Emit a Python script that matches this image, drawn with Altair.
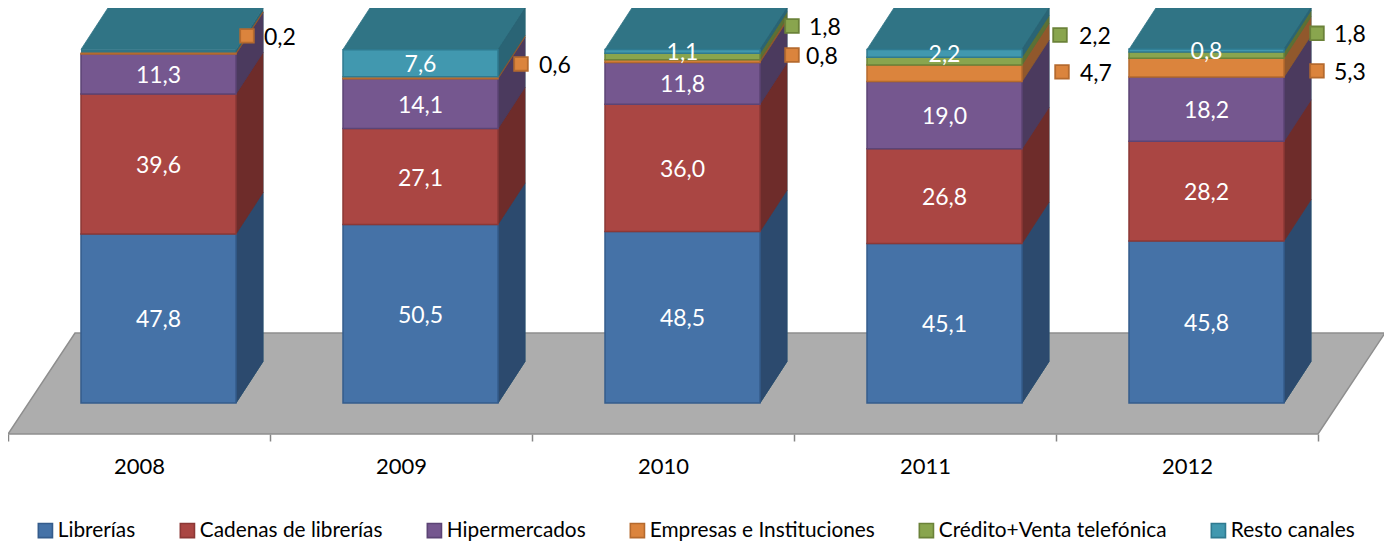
import altair as alt
import pandas as pd

years = ["2008", "2009", "2010", "2011", "2012"]
series = ["Librerías", "Cadenas de librerías", "Hipermercados",
          "Empresas e Instituciones", "Crédito+Venta telefónica", "Resto canales"]
librerias = [47.8, 50.5, 48.5, 45.1, 45.8]
cadenas = [39.6, 27.1, 36.0, 26.8, 28.2]
hiper = [11.3, 14.1, 11.8, 19.0, 18.2]
empresas = [0.2, 0.6, 0.8, 4.7, 5.3]
credito = [None, None, 1.8, 2.2, 1.8]
resto = [None, 7.6, 1.1, 2.2, 0.8]
values = [librerias, cadenas, hiper, empresas, credito, resto]

front = ["#4572A7", "#AA4643", "#75578F", "#DB843D", "#89A54E", "#4198AF"]
edge = ["#355C8C", "#8C3836", "#5C4475", "#B56A2E", "#6B8239", "#2F7A90"]
side = ["#2C4A6E", "#6E2C2A", "#4B3A5E", "#91582C", "#5B7035", "#2A6475"]
cap_col = "#307485"

PXX, PXY = 262.0, 3.536          # pixels per category, pixels per percentage point
W, H = 1376, 426
BAR_L, BAR_W = 73 / PXX, 155 / PXX
DX, DY = 27 / PXX, 41.5 / PXY
Y_MIN = -31 / PXY
Y_MAX = Y_MIN + H / PXY
FLOOR_TOP = 70 / PXY
FLOOR_DX = 67 / PXX

# callouts outside the bars: (series index, year index, nudge in px right, nudge in px down, text gap)
callouts = [(3, 0, -2.5, 3, 17), (3, 1, 9.5, 7, 18), (3, 2, 18.5, 14.7, 14), (4, 2, 18.5, -9.7, 17),
            (3, 3, 26.5, 19.4, 18), (4, 3, 24.5, -5.3, 19), (3, 4, 19.5, 24, 17), (4, 4, 19.5, -1, 17)]

fronts, sides, labels, marks, caps = [], [], [], [], []
for yi, yr in enumerate(years):
    left = yi + BAR_L
    right = left + BAR_W
    caps.append(dict(x=left, x2=right, y=0, y2=100, fill=cap_col))
    sides.append(dict(key=f"c{yi}", x=right, y=0, y2=100, fill=side[5]))
    sides.append(dict(key=f"c{yi}", x=right + DX, y=DY, y2=100 + DY, fill=side[5]))
    for xv, lo, hi in [(left, 100, 100), (left + DX, 100, 100 + DY), (right, 100, 100 + DY), (right + DX, 100 + DY, 100 + DY)]:
        sides.append(dict(key=f"t{yi}", x=xv, y=lo, y2=hi, fill=cap_col))
    cum = 0.0
    for si, s in enumerate(series):
        v = values[si][yi]
        if v is None:
            continue
        lo, hi = cum, cum + v
        cum = hi
        fronts.append(dict(series=s, x=left, x2=right, y=lo, y2=hi))
        key = f"s{yi}_{si}"
        sides.append(dict(key=key, x=right, y=lo, y2=hi, fill=side[si]))
        sides.append(dict(key=key, x=right + DX, y=lo + DY, y2=hi + DY, fill=side[si]))
        mid = (lo + hi) / 2
        txt = f"{v:.1f}".replace(".", ",")
        co = [c for c in callouts if c[0] == si and c[1] == yi]
        if co:
            _, _, nx, ny, gap = co[0]
            mx = right + DX / 2 + nx / PXX
            my = mid + DY / 2 - ny / PXY
            marks.append(dict(x=mx, y=my, fill=front[si], stroke=edge[si]))
            labels.append(dict(x=mx + gap / PXX, y=my, text=txt, col="#000000", align="left"))
        else:
            labels.append(dict(x=(left + right) / 2, y=mid, text=txt, col="#FFFFFF", align="center"))

floor = pd.DataFrame([
    dict(x=0.0, y=Y_MIN, y2=Y_MIN),
    dict(x=FLOOR_DX, y=Y_MIN, y2=FLOOR_TOP),
    dict(x=5.0, y=Y_MIN, y2=FLOOR_TOP),
    dict(x=5.0 + FLOOR_DX, y=FLOOR_TOP, y2=FLOOR_TOP),
])

x_scale = alt.Scale(domain=[0, W / PXX], nice=False, zero=False)
y_scale = alt.Scale(domain=[Y_MIN, Y_MAX], nice=False, zero=False)
tick_vals = [i / 2 for i in range(11)]
label_expr = "datum.value % 1 == 0 ? '' : toString(2008 + floor(datum.value))"

floor_l = alt.Chart(floor).mark_area(fill="#ADADAD", stroke="#8E8E8E", strokeWidth=1.5, orient="vertical").encode(
    x=alt.X("x:Q", scale=x_scale, axis=alt.Axis(
        values=tick_vals, labelExpr=label_expr, title=None, grid=False,
        domain=False, tickSize=7, tickWidth=1.5,
        tickColor=alt.condition("datum.value % 1 == 0", alt.value("#868686"), alt.value("transparent")),
        labelFont="Lato", labelFontSize=22, labelColor="#000000", labelPadding=15,
        labelAngle=0, labelFlush=False, labelOverlap=False)),
    y=alt.Y("y:Q", scale=y_scale, axis=None, stack=None),
    y2="y2:Q",
)

side_df = pd.DataFrame(sides)
side_l = alt.Chart(side_df).mark_area(strokeWidth=0.8, orient="vertical", opacity=1).encode(
    x=alt.X("x:Q", scale=x_scale),
    y=alt.Y("y:Q", scale=y_scale, stack=None),
    y2="y2:Q",
    detail="key:N",
    fill=alt.Fill("fill:N", scale=None),
    stroke=alt.Stroke("fill:N", scale=None),
)

cap_l = alt.Chart(pd.DataFrame(caps)).mark_rect(strokeWidth=0).encode(
    x=alt.X("x:Q", scale=x_scale), x2="x2:Q",
    y=alt.Y("y:Q", scale=y_scale), y2="y2:Q",
    fill=alt.Fill("fill:N", scale=None),
)

legend = alt.Legend(title=None, orient="none", legendX=27, legendY=512, direction="horizontal", columns=6,
                    symbolType="square", symbolSize=200, symbolStrokeWidth=1.6, symbolOpacity=1,
                    labelFont="Lato", labelFontSize=20.8, labelColor="#000000", labelOffset=2,
                    columnPadding=41, labelLimit=400, padding=0)
front_l = alt.Chart(pd.DataFrame(fronts)).mark_rect(strokeWidth=1.5, opacity=1).encode(
    x=alt.X("x:Q", scale=x_scale), x2="x2:Q",
    y=alt.Y("y:Q", scale=y_scale), y2="y2:Q",
    fill=alt.Fill("series:N", scale=alt.Scale(domain=series, range=front), sort=series, legend=legend),
    stroke=alt.Stroke("series:N", scale=alt.Scale(domain=series, range=edge), sort=series, legend=legend),
)

mark_l = alt.Chart(pd.DataFrame(marks)).mark_square(size=185, strokeWidth=1.8, opacity=1, filled=True).encode(
    x=alt.X("x:Q", scale=x_scale),
    y=alt.Y("y:Q", scale=y_scale),
    fill=alt.Fill("fill:N", scale=None),
    stroke=alt.Stroke("stroke:N", scale=None),
)

lab = pd.DataFrame(labels)
text_c = alt.Chart(lab[lab["align"] == "center"]).mark_text(font="Lato", fontSize=23, align="center", baseline="middle", dy=2).encode(
    x=alt.X("x:Q", scale=x_scale), y=alt.Y("y:Q", scale=y_scale),
    text="text:N", color=alt.Color("col:N", scale=None),
)
text_l = alt.Chart(lab[lab["align"] == "left"]).mark_text(font="Lato", fontSize=23, align="left", baseline="middle", dy=2).encode(
    x=alt.X("x:Q", scale=x_scale), y=alt.Y("y:Q", scale=y_scale),
    text="text:N", color=alt.Color("col:N", scale=None),
)

chart = alt.layer(floor_l, cap_l, side_l, front_l, mark_l, text_c, text_l).properties(
    width=W, height=H,
    padding=alt.Padding(left=0, top=0, right=0, bottom=108),
    autosize=alt.AutoSizeParams(type="none"),
    background="#FFFFFF",
).resolve_scale(fill="independent", stroke="independent").configure_view(stroke=None)

chart.save("out.html", embed_options={"renderer": "svg", "actions": False})
